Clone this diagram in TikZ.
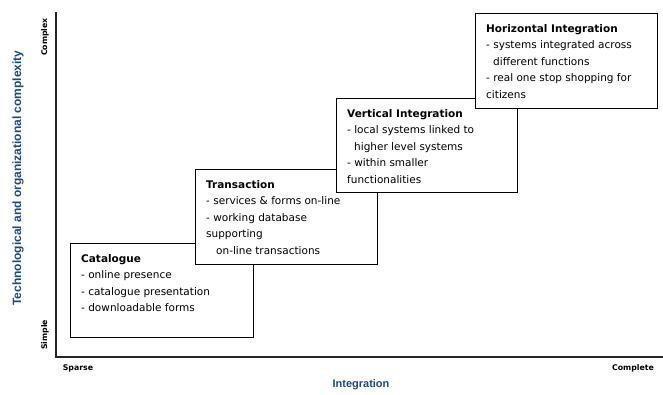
\documentclass[tikz,border=0pt]{standalone}
\usepackage{fontspec}
\setmainfont{DejaVu Sans}
\newfontfamily\axisfont{Liberation Sans}
\definecolor{axisblue}{RGB}{31,73,125}

\begin{document}
\begin{tikzpicture}[x=1pt, y=-1pt,
    stage/.style={draw=black, line width=1pt, fill=white, anchor=north west, inner sep=0pt},
    stagetext/.style={anchor=north west, align=left, inner sep=0pt, font=\fontsize{10.5}{16.5}\selectfont},
    tick/.style={font=\fontsize{7.8}{9}\selectfont\bfseries},
    axislabel/.style={font=\axisfont\fontsize{11}{13}\selectfont\bfseries, text=axisblue}]
    \useasboundingbox (0,0) rectangle (663,394);
    \coordinate (ytop) at (56,12);
    \coordinate (origin) at (56,357);
    \coordinate (xend) at (663,357);
    \draw[line width=1.3pt, black!85] (ytop) -- (origin) -- (xend);

    % stages, drawn bottom-left first so each one covers the previous corner
    \node[stage, minimum width=183pt, minimum height=94pt] (catalogue) at (70,243) {};
    \node[stagetext] (cataloguetext) at ([xshift=11pt, yshift=-11pt]catalogue.north west)
        {\textbf{Catalogue}\\- online presence\\- catalogue presentation\\- downloadable forms};

    \node[stage, minimum width=182pt, minimum height=95pt] (transaction) at (195,169) {};
    \node[stagetext] (transactiontext) at ([xshift=11pt, yshift=-11pt]transaction.north west)
        {\textbf{Transaction}\\- services \& forms on-line\\- working database\\supporting\\\hspace*{10pt}on-line transactions};

    \node[stage, minimum width=181pt, minimum height=94pt] (vertical) at (336,98) {};
    \node[stagetext] (verticaltext) at ([xshift=11pt, yshift=-11pt]vertical.north west)
        {\textbf{Vertical Integration}\\- local systems linked to\\\hspace*{7pt}higher level systems\\- within smaller\\functionalities};

    \node[stage, minimum width=182pt, minimum height=95pt] (horizontal) at (475,13) {};
    \node[stagetext] (horizontaltext) at ([xshift=11pt, yshift=-11pt]horizontal.north west)
        {\textbf{Horizontal Integration}\\- systems integrated across\\\hspace*{7pt}different functions\\- real one stop shopping for\\citizens};

    \node[tick, rotate=90] (complex) at (45,37) {Complex};
    \node[tick, rotate=90] (simple) at (45,335) {Simple};
    \node[tick] (sparse) at (78,368) {Sparse};
    \node[tick] (complete) at (633,368) {Complete};
    \node[axislabel] (xlabel) at (361,385) {Integration};
    \node[axislabel, rotate=90, font=\axisfont\fontsize{12}{14}\selectfont\bfseries] (ylabel) at (18,178) {Technological and organizational complexity};
\end{tikzpicture}
\end{document}
